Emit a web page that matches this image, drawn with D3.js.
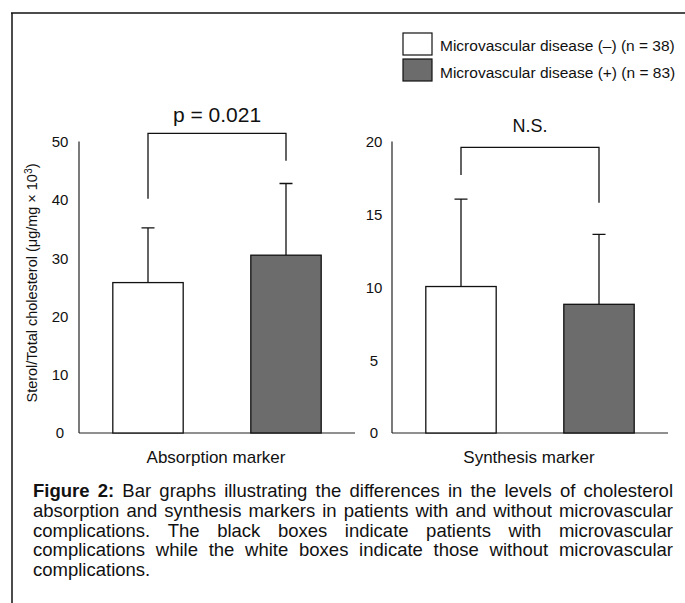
<!DOCTYPE html>
<html>
<head>
<meta charset="utf-8">
<script src="https://cdn.jsdelivr.net/npm/d3@7"></script>
<style>
  body { margin: 0; background: #fff; }
  text { font-family: "Liberation Sans", Arial, sans-serif; fill: #111; }
</style>
</head>
<body>
<div id="container"></div>
<script>
var scene_width = 685, scene_height = 603

// data
var groups = ["Microvascular disease (\u2013) (n = 38)", "Microvascular disease (+) (n = 83)"]
var markers = ["Absorption marker", "Synthesis marker"]
var absorptionMean = [25.8, 30.5]
var absorptionSD = [9.4, 12.3]
var synthesisMean = [10.05, 8.83]
var synthesisSD = [6.0, 4.8]
var absorptionTicks = [0, 10, 20, 30, 40, 50]
var synthesisTicks = [0, 5, 10, 15, 20]
var sigLabels = ["p = 0.021", "N.S."]
var absorptionBracket = [40.2, 51.4, 46.7]
var synthesisBracket = [17.7, 19.6, 15.8]
var captionLines = [
  "Figure 2: Bar graphs illustrating the differences in the levels of cholesterol",
  "absorption and synthesis markers in patients with and without microvascular",
  "complications. The black boxes indicate patients with microvascular",
  "complications while the white boxes indicate those without microvascular",
  "complications."
]
var fills = ["#ffffff", "#6c6c6c"]

var svg = d3.select('#container').append('svg')
  .attr('width', scene_width)
  .attr('height', scene_height)

// page frame (top and left rule)
svg.append('line').attr('x1', 11).attr('x2', scene_width).attr('y1', 13).attr('y2', 13)
  .attr('stroke', '#111').attr('stroke-width', 1.5)
svg.append('line').attr('x1', 12).attr('x2', 12).attr('y1', 13).attr('y2', scene_height)
  .attr('stroke', '#111').attr('stroke-width', 1.5)

var panels = [
  {name: markers[0], mean: absorptionMean, sd: absorptionSD, ticks: absorptionTicks, max: 50,
   axisX: 79, xEnd: 355, tickX: 60, sig: sigLabels[0], bracket: absorptionBracket, sigY: 122, sigSize: 21},
  {name: markers[1], mean: synthesisMean, sd: synthesisSD, ticks: synthesisTicks, max: 20,
   axisX: 392, xEnd: 668, tickX: 374, sig: sigLabels[1], bracket: synthesisBracket, sigY: 132, sigSize: 18}
]

function drawPanel(p) {
  var y = d3.scaleLinear().domain([0, p.max]).range([433, 141.5])
  var x = d3.scaleBand().domain(groups).range([p.axisX, p.xEnd])
    .paddingInner(0.49).paddingOuter(0.245)
  var g = svg.append('g')

  // axis lines
  g.append('line').attr('x1', p.axisX).attr('x2', p.axisX).attr('y1', y(p.max)).attr('y2', y(0))
    .attr('stroke', '#222').attr('stroke-width', 1.2)
  g.append('line').attr('x1', p.axisX).attr('x2', p.xEnd).attr('y1', y(0)).attr('y2', y(0))
    .attr('stroke', '#222').attr('stroke-width', 1.2)

  g.selectAll('.tick').data(p.ticks).enter().append('text')
    .attr('x', p.tickX).attr('y', d => y(d)).attr('dy', '0.36em')
    .attr('text-anchor', 'middle').style('font-size', '15px')
    .text(d => d)

  // error bars first so the bar covers the lower part
  g.selectAll('.err').data(groups).enter().append('path')
    .attr('d', (d, i) => {
      var cx = x(d) + x.bandwidth() / 2
      var top = y(p.mean[i] + p.sd[i])
      return 'M' + cx + ',' + y(p.mean[i]) + 'V' + top + 'M' + (cx - 6.5) + ',' + top + 'H' + (cx + 6.5)
    })
    .attr('fill', 'none').attr('stroke', '#111').attr('stroke-width', 1.3)

  g.selectAll('.bar').data(groups).enter().append('rect')
    .attr('x', d => x(d))
    .attr('y', (d, i) => y(p.mean[i]))
    .attr('width', x.bandwidth())
    .attr('height', (d, i) => y(0) - y(p.mean[i]))
    .attr('fill', (d, i) => fills[i])
    .attr('stroke', '#111').attr('stroke-width', 1.3)

  // significance bracket
  var c0 = x(groups[0]) + x.bandwidth() / 2
  var c1 = x(groups[1]) + x.bandwidth() / 2
  g.append('path')
    .attr('d', 'M' + c0 + ',' + y(p.bracket[0]) + 'V' + y(p.bracket[1]) + 'H' + c1 + 'V' + y(p.bracket[2]))
    .attr('fill', 'none').attr('stroke', '#111').attr('stroke-width', 1.3)
  g.append('text').attr('x', (c0 + c1) / 2).attr('y', p.sigY)
    .attr('text-anchor', 'middle').style('font-size', p.sigSize + 'px')
    .text(p.sig)

  g.append('text').attr('x', (p.axisX + p.xEnd) / 2 - 1).attr('y', 463)
    .attr('text-anchor', 'middle').style('font-size', '17px')
    .text(p.name)
}

panels.forEach(drawPanel)

// y axis title
svg.append('text')
  .attr('transform', 'translate(37,283) rotate(-90)')
  .attr('text-anchor', 'middle').style('font-size', '14px')
  .attr('textLength', 239).attr('lengthAdjust', 'spacingAndGlyphs')
  .html('Sterol/Total cholesterol (\u03bcg/mg \u00d7 10<tspan dy="-5" style="font-size:10px">3</tspan><tspan dy="5">)</tspan>')

// legend
var legend = svg.append('g')
legend.selectAll('rect').data(groups).enter().append('rect')
  .attr('x', 403).attr('y', (d, i) => 33 + i * 26)
  .attr('width', 29).attr('height', 22)
  .attr('fill', (d, i) => fills[i]).attr('stroke', '#111').attr('stroke-width', 1.2)
legend.selectAll('text').data(groups).enter().append('text')
  .attr('x', 440).attr('y', (d, i) => 51 + i * 27)
  .style('font-size', '15.5px')
  .text(d => d)

// caption, justified word by word
var capLeft = 33, capRight = 673
captionLines.forEach(function (line, li) {
  var words = line.split(' ')
  var yy = 497 + li * 19.8
  var tmp = words.map(function (w, wi) {
    var bold = li === 0 && wi < 2
    return svg.append('text').attr('y', yy).style('font-size', '18.5px')
      .style('font-weight', bold ? 'bold' : 'normal').text(w)
  })
  var widths = tmp.map(t => t.node().getComputedTextLength())
  var total = d3.sum(widths)
  var last = li === captionLines.length - 1
  var gap = last ? 5 : (capRight - capLeft - total) / (words.length - 1)
  var squeeze = 1
  if (gap < 3.5) {
    gap = 3.5
    squeeze = (capRight - capLeft - gap * (words.length - 1)) / total
  }
  var xx = capLeft
  tmp.forEach(function (t, i) {
    t.attr('x', xx)
    if (squeeze < 1) t.attr('textLength', widths[i] * squeeze).attr('lengthAdjust', 'spacingAndGlyphs')
    xx += widths[i] * squeeze + gap
  })
})
</script>
</body>
</html>
